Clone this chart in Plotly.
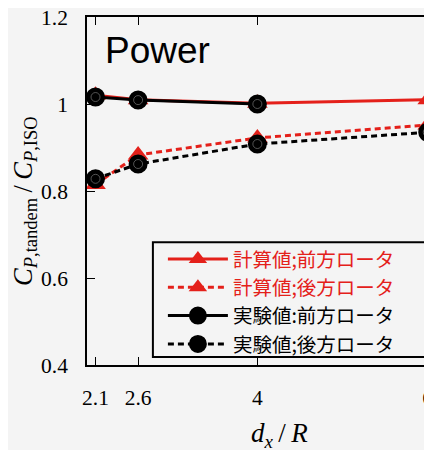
import plotly.graph_objects as go

# data
x_all = [2.1, 2.6, 4, 6]
calc_front = [1.02, 1.01, 1.002, 1.01]
calc_rear = [0.815, 0.883, 0.922, 0.952]
exp_x_front = [2.1, 2.6, 4]
exp_front = [1.016, 1.009, 1.0]
exp_rear = [0.828, 0.862, 0.908, 0.935]
x_ticks = [2.1, 2.6, 4, 6]
x_tick_text = ["2.1", "2.6", "4", "6"]
y_ticks = [0.4, 0.6, 0.8, 1.0, 1.2]
y_tick_text = ["0.4", "0.6", "0.8", "1", "1.2"]
names = ["計算値;前方ロータ", "計算値;後方ロータ", "実験値:前方ロータ", "実験値;後方ロータ"]

RED = "#e4201a"
BG = "#f4f4f4"

fig = go.Figure()
fig.add_trace(go.Scatter(x=x_all, y=calc_front, mode="lines+markers",
                         name=f"<span style='color:{RED}'>{names[0]}</span>",
                         line=dict(color=RED, width=3),
                         marker=dict(symbol="triangle-up", size=18, color=RED)))
fig.add_trace(go.Scatter(x=x_all, y=calc_rear, mode="lines+markers",
                         name=f"<span style='color:{RED}'>{names[1]}</span>",
                         line=dict(color=RED, width=3, dash="6px,4px"),
                         marker=dict(symbol="triangle-up", size=18, color=RED)))
fig.add_trace(go.Scatter(x=exp_x_front, y=exp_front, mode="lines+markers",
                         name=names[2],
                         line=dict(color="black", width=3),
                         marker=dict(symbol="circle", size=17, color="black",
                                     line=dict(color="black", width=2))))
fig.add_trace(go.Scatter(x=x_all, y=exp_rear, mode="lines+markers",
                         name=names[3],
                         line=dict(color="black", width=3, dash="6px,4px"),
                         marker=dict(symbol="circle", size=17, color="black",
                                     line=dict(color="black", width=2))))
# faint inner rings of the circle markers
for xs, ys in [(exp_x_front, exp_front), (x_all, exp_rear)]:
    fig.add_trace(go.Scatter(x=xs, y=ys, mode="markers", showlegend=False,
                             hoverinfo="skip",
                             marker=dict(symbol="circle-open", size=9,
                                         color="#777777", line=dict(width=0.7))))

fig.update_layout(
    width=432, height=450,
    margin=dict(l=79, r=8, t=9, b=93, autoexpand=False),
    paper_bgcolor=BG, plot_bgcolor=BG,
    showlegend=True,
    legend=dict(x=0.22, y=0.36, xanchor="left", yanchor="top",
                bgcolor="rgba(0,0,0,0)", borderwidth=0,
                font=dict(family="Noto Sans CJK JP", size=19.5, color="black"),
                itemwidth=60, tracegroupgap=0),
    shapes=[
        # legend frame
        dict(type="rect", xref="paper", yref="paper", layer="above",
             x0=0.191, x1=0.986, y0=0.023, y1=0.353,
             line=dict(color="black", width=2), fillcolor=BG),
    ],
    annotations=[
        dict(text="Power", x=0.046, y=0.968, xref="paper", yref="paper",
             xanchor="left", yanchor="top", showarrow=False,
             font=dict(family="Liberation Sans", size=37, color="black")),
        dict(text="<i>d<sub>x</sub></i>\u2009/\u2009<i>R</i>", x=0.559, y=-0.2,
             xref="paper", yref="paper", xanchor="center", yanchor="middle",
             showarrow=False,
             font=dict(family="Liberation Serif", size=27, color="black")),
        dict(text="<i>C</i><sub><i>P</i>,tandem</sub>\u2009/\u2009<i>C</i><sub><i>P</i>,ISO</sub>",
             x=-0.18, y=0.471, xref="paper", yref="paper",
             xanchor="center", yanchor="middle", textangle=-90, showarrow=False,
             font=dict(family="Liberation Serif", size=26.5, color="black")),
    ],
)
fig.update_xaxes(range=[2.0, 6.05], tickvals=x_ticks, ticktext=x_tick_text,
                 ticks="inside", ticklen=8, tickwidth=1.3, tickcolor="black",
                 showline=True, linecolor="black", linewidth=1.5, mirror="allticks",
                 showgrid=False, zeroline=False, ticklabelstandoff=12, automargin=False,
                 ticklabeloverflow="allow",
                 tickfont=dict(family="Liberation Serif", size=21.5, color="black"))
fig.update_yaxes(range=[0.4, 1.2], tickvals=y_ticks, ticktext=y_tick_text,
                 ticks="inside", ticklen=8, tickwidth=1.3, tickcolor="black",
                 showline=True, linecolor="black", linewidth=1.5, mirror="allticks",
                 showgrid=False, zeroline=False, ticklabelstandoff=13, automargin=False,
                 ticklabeloverflow="allow",
                 tickfont=dict(family="Liberation Serif", size=21.5, color="black"))

fig.write_html("out.html")
